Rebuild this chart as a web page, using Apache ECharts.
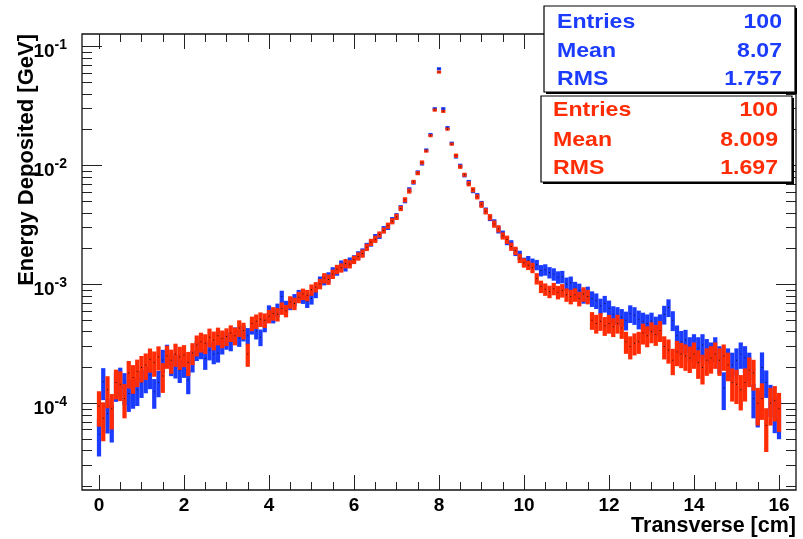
<!DOCTYPE html>
<html><head><meta charset="utf-8">
<script src="https://cdn.jsdelivr.net/npm/echarts@6/dist/echarts.min.js"></script>
<style>html,body{margin:0;padding:0;background:#fff}#c{width:803px;height:539px}</style>
</head><body><div id="c"></div>
<script>
// ---- data (energy deposited per bin, in units of 1e-4 GeV) ----
const BIN_WIDTH = 0.1;       // cm, bins centred at 0.0, 0.1, ... 16.0
const VALUE_UNIT = 1e-4;     // GeV
const blueValues = [
  0.55, 1.52, 0.82, 0.72, 1.43, 1.57, 1.38, 1.21, 1.25, 1.30,
  1.50, 1.62, 1.73, 1.25, 1.50, 2.31, 2.55, 2.17, 2.10, 1.90,
  2.10, 1.57, 2.30, 2.80, 2.90, 2.39, 2.80, 2.60, 2.65, 3.10,
  3.40, 3.30, 3.75, 3.55, 3.90, 3.70, 4.40, 4.05, 3.60, 4.60,
  5.90, 5.40, 6.10, 7.90, 6.50, 6.90, 7.40, 8.10, 7.70, 7.20,
  7.60, 8.60, 10.6, 10.9, 11.5, 12.8, 13.0, 14.6, 14.1, 15.6,
  16.3, 17.6, 18.6, 20.9, 22.3, 24.8, 25.6, 29.2, 30.5, 34.8,
  37.5, 44.2, 50.6, 62.5, 71.8, 87.5, 104, 135, 182, 300,
  650, 300, 208, 154, 119, 99.5, 82.6, 72.0, 61.5, 55.8,
  47.5, 41.8, 36.2, 33.0, 28.8, 26.5, 23.2, 21.8, 18.8, 17.6,
  15.4, 15.9, 15.0, 14.6, 13.1, 13.3, 12.6, 12.2, 11.5, 11.6,
  10.1, 10.3, 9.3, 8.9, 8.0, 8.4, 7.6, 7.3, 6.6, 6.9,
  6.3, 5.6, 5.5, 5.3, 5.0, 5.7, 5.5, 5.1, 4.9, 4.7,
  4.9, 4.5, 4.7, 5.6, 6.4, 5.0, 3.7, 3.3, 3.4, 2.9,
  3.1, 2.9, 3.1, 2.8, 2.6, 2.9, 2.4, 1.35, 2.3, 2.1,
  2.3, 2.6, 2.4, 2.1, 1.1, 0.95, 2.0, 1.5, 1.1, 0.85,
  0.78
];
const redValues = [
  0.95, 0.75, 1.30, 0.90, 1.50, 1.45, 1.10, 1.80, 1.65, 1.85,
  2.00, 2.10, 2.35, 2.20, 2.45, 1.70, 2.50, 2.30, 2.60, 2.45,
  2.55, 2.20, 2.65, 3.10, 3.30, 3.20, 3.60, 3.40, 3.70, 3.50,
  3.65, 3.90, 3.70, 4.30, 4.10, 2.60, 4.70, 4.90, 5.10, 5.00,
  5.40, 5.70, 5.60, 6.30, 6.00, 7.10, 6.90, 7.80, 8.30, 8.10,
  9.00, 9.50, 10.1, 11.3, 11.0, 12.2, 13.4, 13.8, 15.0, 14.8,
  16.1, 17.2, 18.2, 20.5, 22.6, 24.0, 26.3, 28.4, 31.2, 34.0,
  37.0, 43.5, 51.5, 61.0, 72.8, 86.2, 106, 132, 178, 292,
  610, 285, 202, 151, 121, 97.5, 83.5, 70.2, 62.5, 54.5,
  46.8, 41.2, 36.8, 32.2, 29.4, 25.6, 23.8, 20.8, 19.2, 16.6,
  15.2, 14.5, 13.8, 11.2, 9.6, 9.1, 8.7, 9.2, 8.6, 8.9,
  8.2, 7.9, 8.2, 7.6, 8.3, 7.9, 5.0, 4.7, 4.9, 4.5,
  4.7, 4.4, 4.7, 4.3, 3.3, 3.0, 3.2, 3.3, 3.9, 3.7,
  4.0, 3.8, 4.1, 3.0, 2.8, 2.3, 2.7, 2.6, 2.5, 2.4,
  2.6, 2.2, 2.0, 2.3, 2.4, 2.6, 2.3, 2.5, 2.1, 1.5,
  1.45, 1.3, 1.5, 1.9, 1.8, 1.0, 1.1, 0.65, 1.0, 1.05,
  0.9
];
// relative bin errors in percent
const blueErrPct = [
  35,30,32,35,28,27,30,30,28,27,
  26,25,24,28,25,22,22,22,23,22,
  22,24,21,19,19,20,18,18,17,17,
  17,17,16,16,15,16,14,15,16,14,
  13,13,13,12,12,12,12,11,11,12,
  11,11,10,10,10,9,9,9,9,8,
  8,8,8,7,7,7,6,6,6,6,
  6,5,5,5,4,4,4,3,3,3,
  3,3,3,3,4,4,4,5,5,5,
  6,6,6,7,7,7,8,8,8,9,
  9,9,10,10,11,11,11,12,12,12,
  13,13,13,14,14,14,15,15,15,16,
  16,17,17,17,18,17,17,18,18,19,
  18,19,19,18,17,19,22,23,22,24,
  23,24,23,24,25,24,26,35,26,27,
  26,25,26,27,32,34,34,26,30,34,
  36
];
const redErrPct = [
  33,36,30,33,28,28,32,26,27,26,
  25,25,23,24,23,28,22,23,22,22,
  21,23,21,20,19,19,18,18,17,17,
  17,16,17,16,16,22,14,14,14,14,
  13,13,13,12,12,12,12,11,11,11,
  11,10,10,10,10,9,9,9,9,8,
  8,8,8,7,7,7,6,6,6,6,
  6,5,5,5,4,4,4,3,3,3,
  3,3,3,3,4,4,4,5,5,5,
  6,6,6,7,7,7,8,8,8,9,
  9,9,10,11,12,12,12,12,13,13,
  13,14,13,14,14,14,17,18,17,18,
  18,18,18,19,21,22,21,21,20,20,
  20,20,20,22,23,25,24,24,25,25,
  25,27,28,26,26,25,26,25,27,31,
  32,33,31,28,29,35,34,40,35,33,
  36
];
const xTickLabels = [0, 2, 4, 6, 8, 10, 12, 14, 16];
const yDecadeExponents = [-4, -3, -2, -1];
const blueStats = [['Entries', '100'], ['Mean', '8.07'], ['RMS', '1.757']];
const redStats  = [['Entries', '100'], ['Mean', '8.009'], ['RMS', '1.697']];

// ---- layout / style ----
const X_MIN = -0.4, X_MAX = 16.4;
const Y_MIN = 1.868e-5, Y_MAX = 0.1274;
const BLUE = '#1b3cff', RED = '#ff2c05';
const FONT = '"Liberation Sans", Arial, Helvetica, sans-serif';
const GRID = { left: 82, top: 34, width: 714, height: 456 };
const TICK_COLOR = '#222';

function buildRows(vals, errs) {
  return vals.map((v, i) => {
    const val = v * VALUE_UNIT, e = errs[i] / 100;
    return [+(i * BIN_WIDTH).toFixed(2), val, val * (1 - e), val * (1 + e)];
  });
}
function makeRender(color) {
  return function (params, api) {
    const x = api.value(0), v = api.value(1), lo = api.value(2), hi = api.value(3);
    const pt = api.coord([x, hi]), pb = api.coord([x, lo]);
    const pl = api.coord([x - BIN_WIDTH / 2, v]), pr = api.coord([x + BIN_WIDTH / 2, v]);
    const c = api.coord([x, v]);
    let top = pt[1], h = pb[1] - pt[1];
    if (h < 3) { top = c[1] - 1.5; h = 3; }
    return { type: 'group', children: [
      { type: 'rect', shape: { x: pl[0], y: top, width: pr[0] - pl[0], height: h }, style: { fill: color } },
      { type: 'rect', shape: { x: c[0] - 0.5, y: c[1] - 0.5, width: 1, height: 1 }, style: { fill: '#111' } }
    ]};
  };
}

const LY0 = Math.log10(Y_MIN), LY1 = Math.log10(Y_MAX);
const yMinor = [];
for (let n = -5; n <= -1; n++) for (let k = 2; k <= 9; k++) {
  const v = n + Math.log10(k);
  if (v > LY0 && v < LY1) yMinor.push(v);
}
const xMinor = [];
for (let t = 0; t <= 16; t += 0.5) xMinor.push(t);

const grids = [0, 1, 2, 3, 4].map(() => Object.assign({}, GRID));
grids[0].show = true; grids[0].borderColor = '#111'; grids[0].borderWidth = 1.3; grids[0].z = 5;

function decoX(gi, pos, ticks, len, labels) {
  return {
    gridIndex: gi, type: 'value', min: X_MIN, max: X_MAX, position: pos,
    axisLine: { show: false, onZero: false }, splitLine: { show: false },
    axisTick: { show: true, inside: true, length: len, customValues: ticks, lineStyle: { color: TICK_COLOR, width: 1 } },
    axisLabel: labels ? { show: true, customValues: labels, margin: 6, color: '#000', fontFamily: FONT, fontWeight: 'bold', fontSize: 19 } : { show: false }
  };
}
function decoY(gi, pos, ticks, len, labels) {
  return {
    gridIndex: gi, type: 'value', min: LY0, max: LY1, position: pos,
    axisLine: { show: false, onZero: false }, splitLine: { show: false },
    axisTick: { show: true, inside: true, length: len, customValues: ticks, lineStyle: { color: TICK_COLOR, width: 1 } },
    axisLabel: labels ? {
      show: true, customValues: labels, margin: 15, color: '#000',
      formatter: v => '{b|10}{s|' + Math.round(v) + '}',
      rich: {
        b: { fontFamily: FONT, fontWeight: 'bold', fontSize: 19, padding: [11, 0, 0, 0], color: '#000' },
        s: { fontFamily: FONT, fontWeight: 'bold', fontSize: 14, padding: [0, 0, 3, 0], color: '#000' }
      }
    } : { show: false }
  };
}

function statGraphics(box, stats, color, lx, rx, ys) {
  const els = [
    { type: 'rect', shape: { x: box.x + 2, y: box.y + 2, width: box.width, height: box.height }, style: { fill: '#000' }, z: 99 },
    { type: 'rect', shape: box, style: { fill: '#fff', stroke: '#000', lineWidth: 1.2 }, z: 100 }
  ];
  stats.forEach((s, i) => {
    els.push({ type: 'text', x: lx, y: ys[i], z: 101, scaleX: 1.1, style: { text: s[0], fill: color, font: 'bold 21px ' + FONT, align: 'left', verticalAlign: 'middle', textAlign: 'left', textVerticalAlign: 'middle' } });
    els.push({ type: 'text', x: rx, y: ys[i], z: 101, scaleX: 1.1, style: { text: s[1], fill: color, font: 'bold 21px ' + FONT, align: 'right', verticalAlign: 'middle', textAlign: 'right', textVerticalAlign: 'middle' } });
  });
  return els;
}

const chart = echarts.init(document.getElementById('c'), null, { renderer: 'canvas' });
chart.setOption({
  animation: false,
  backgroundColor: '#fff',
  grid: grids,
  xAxis: [
    { gridIndex: 0, type: 'value', min: X_MIN, max: X_MAX, show: false },
    decoX(1, 'bottom', xTickLabels, 15, xTickLabels),
    decoX(2, 'bottom', xMinor, 8, null),
    decoX(3, 'top', xTickLabels, 15, null),
    decoX(4, 'top', xMinor, 8, null)
  ],
  yAxis: [
    { gridIndex: 0, type: 'log', logBase: 10, min: Y_MIN, max: Y_MAX, show: false },
    decoY(1, 'left', yDecadeExponents, 20, yDecadeExponents),
    decoY(2, 'left', yMinor, 10, null),
    decoY(3, 'right', yDecadeExponents, 20, null),
    decoY(4, 'right', yMinor, 10, null)
  ],
  series: [
    { type: 'custom', name: 'blue', xAxisIndex: 0, yAxisIndex: 0, clip: true, renderItem: makeRender(BLUE),
      data: buildRows(blueValues, blueErrPct), encode: { x: 0, y: 1 }, z: 2 },
    { type: 'custom', name: 'red', xAxisIndex: 0, yAxisIndex: 0, clip: true, renderItem: makeRender(RED),
      data: buildRows(redValues, redErrPct), encode: { x: 0, y: 1 }, z: 3 }
  ],
  graphic: [
    { type: 'text', x: 27, y: 34, rotation: Math.PI / 2, z: 50,
      style: { text: 'Energy Deposited [GeV]', fill: '#000', font: 'bold 22px ' + FONT, align: 'right', verticalAlign: 'middle', textAlign: 'right', textVerticalAlign: 'middle' } },
    { type: 'text', x: 796, y: 526, z: 50,
      style: { text: 'Transverse [cm]', fill: '#000', font: 'bold 21.5px ' + FONT, align: 'right', verticalAlign: 'middle', textAlign: 'right', textVerticalAlign: 'middle' } }
  ].concat(
    statGraphics({ x: 544, y: 6, width: 251, height: 86 }, blueStats, BLUE, 557, 782, [22.5, 51, 79]),
    statGraphics({ x: 541, y: 96, width: 251, height: 86 }, redStats, RED, 553, 778, [110.5, 140, 168.5])
  )
});
</script></body></html>
